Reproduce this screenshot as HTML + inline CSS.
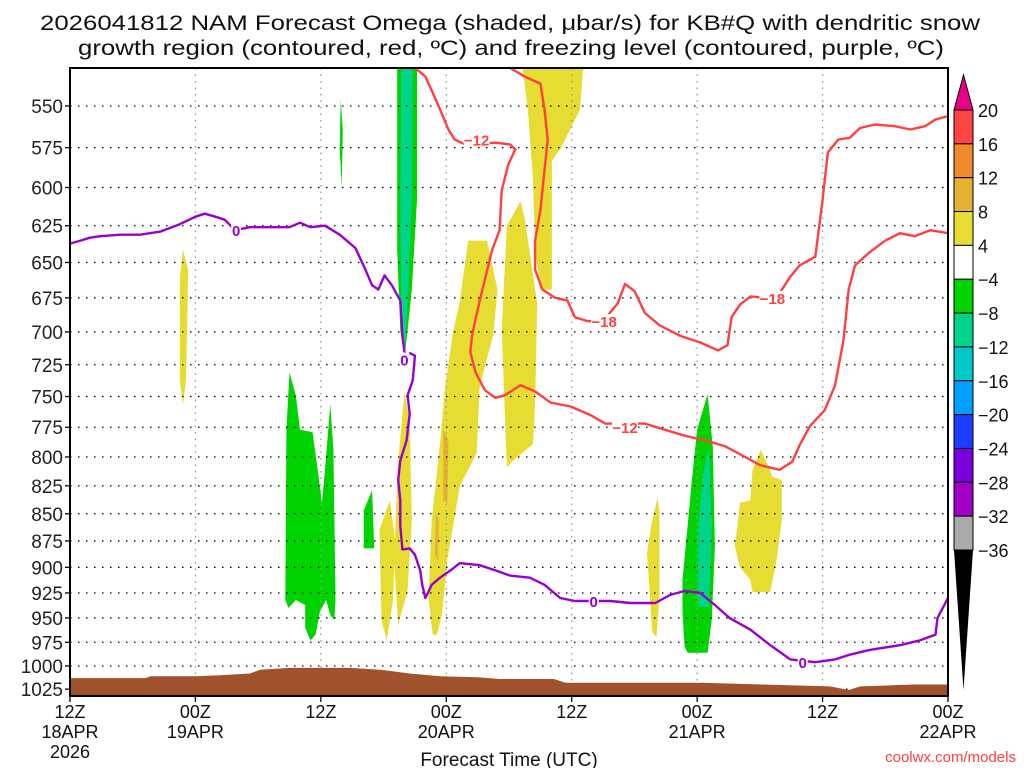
<!DOCTYPE html>
<html><head><meta charset="utf-8"><style>
html,body{margin:0;padding:0;background:#fff;}
svg{display:block;font-family:"Liberation Sans",sans-serif;}
</style></head><body>
<svg id="chart" width="1024" height="768" viewBox="0 0 1024 768" xmlns="http://www.w3.org/2000/svg">
<g id="title">
<text x="510" y="30" text-anchor="middle" font-size="21" textLength="940" lengthAdjust="spacingAndGlyphs" fill="#111">2026041812 NAM Forecast Omega (shaded, μbar/s) for KB#Q with dendritic snow</text>
<text x="511" y="55" text-anchor="middle" font-size="21" textLength="866" lengthAdjust="spacingAndGlyphs" fill="#111">growth region (contoured, red, ºC) and freezing level (contoured, purple, ºC)</text>
</g>
<g id="shading"></g>
<g id="grid"></g>
<g id="terrain"></g>
<g id="contours"></g>
<g id="axes"></g>
<g id="colorbar"></g>
<text x="509" y="766" text-anchor="middle" font-size="19" fill="#111">Forecast Time (UTC)</text>
<text x="1016" y="762" text-anchor="end" font-size="15" fill="#ff4040">coolwx.com/models</text>
</svg>
<script>
// ---- data ----
const pressureTicks = [550,575,600,625,650,675,700,725,750,775,800,825,850,875,900,925,950,975,1000,1025];
const timeTickHours = [0,12,24,36,48,60,72,84];
const timeTickLine1 = ["12Z","00Z","12Z","00Z","12Z","00Z","12Z","00Z"];
const timeTickLine2 = ["18APR","19APR","","20APR","","21APR","","22APR"];
const timeTickLine3 = ["2026","","","","","","",""];
const freezingLevel = [[0,637],[1,635],[1.9,633],[2.9,632],[4.8,631],[6.7,631],[8.6,629],[10.5,624],[12,619],[12.9,617],[13.9,619],[14.8,621],[15.8,628],[17.2,626],[19.1,626],[21,626],[22,623],[23,626],[24.4,625],[25.8,631],[27.3,640],[28.2,654],[28.9,666],[29.5,669],[30.1,659],[30.8,666],[31.6,677],[31.8,703],[32.1,721],[32.5,716],[33,718],[32.8,737],[32.3,749],[32.5,764],[32.2,786],[31.6,803],[31.4,820],[31.6,838],[31.6,861],[31.8,883],[32.5,882],[33,888],[33.5,903],[33.7,917],[34,930],[34.6,917],[35.4,910],[36.4,903],[37.3,896],[39.2,898],[40.7,903],[42.1,908],[44,910],[45.4,917],[46.9,930],[48.3,933],[51.7,933],[53.6,935],[56,935],[57.4,927],[58.8,923],[60.3,925],[61.7,937],[63.1,950],[65.1,962],[67,978],[68.9,993],[71.3,996],[73.2,993],[74.6,988],[76.5,983],[79.4,978],[81.3,973],[82.8,967],[83,950],[84,930]];
const dgzMinus12 = [[33,528],[34,533],[34.6,541],[35.4,552],[36.2,564],[36.8,570],[37.8,573],[40.7,572],[42.1,573],[42.6,576],[41.9,586],[41.3,602],[41.1,628],[40.4,641],[39.2,677],[38.5,701],[38.3,715],[38.8,731],[39.7,745],[40.7,751],[41.6,749],[43.1,741],[44.5,746],[46,755],[47.9,758],[49.8,765],[51.2,772],[53.5,772],[55,772],[56.9,777],[58.8,782],[60.8,786],[62.7,791],[64.6,800],[66,807],[67.9,811],[69.1,804],[69.8,790],[70.8,774],[72.2,761],[73.2,741],[74,706],[74.5,669],[75.1,652],[76.5,643],[78,635],[79.4,630],[80.8,632],[82.3,628],[84,630]];
const dgzMinus18 = [[42.1,528],[43.5,533],[45,537],[45.4,552],[45.7,570],[45.4,589],[45,615],[44.5,635],[44.5,655],[45.2,669],[46.4,675],[47.6,677],[48.3,689],[49.5,692],[51,692],[52.4,679],[53.1,665],[54,670],[55,686],[56.4,695],[58.4,703],[60.3,708],[62,714],[62.9,710],[63.3,689],[64.1,680],[65.1,674],[66.5,675],[67.6,675],[68.9,660],[69.8,652],[71.3,646],[72,608],[72.5,578],[73.5,570],[74.6,569],[75.6,563],[77,561],[78.9,562],[80.4,564],[81.8,562],[82.8,558],[84,556]];
const contourLabels = [["-12",38.9,570,"#ff4040"],["-18",51.1,692,"#ff4040"],["-12",53.1,775,"#ff4040"],["-18",67.2,675,"#ff4040"],["0",15.9,628,"#9900cc"],["0",32.0,721,"#9900cc"],["0",50.1,933,"#9900cc"],["0",70.1,996,"#9900cc"]];
const surfaceHours = [0,7.2,7.7,12,14.4,17.2,18.2,21,26.8,29.7,32.5,35.4,39,41.1,46.3,47.4,60.4,66.2,72.7,74.5,75.6,80.7,84];
const surfacePressure = [1013,1013,1011,1011,1010,1008,1004,1002,1002,1004,1008,1011,1012,1014,1014,1018,1018,1020,1022,1026,1022,1020,1020];
const omegaAreas = [
 ["green",[[31.3,528],[33.2,528],[33.2,608],[32.7,669],[32.3,699],[32,719],[31.6,699],[31.3,641]]],
 ["teal",[[31.7,528],[32.8,528],[32.7,608],[32.3,677],[32,716],[31.7,677],[31.6,608]]],
 ["green",[[25.9,546],[26.1,564],[26,600],[25.8,576]]],
 ["green",[[21,731],[21.6,749],[22,777],[23.2,779],[23.7,811],[24.1,840],[24.4,811],[24.9,756],[25.2,794],[25.4,932],[25.3,952],[24.9,947],[24.5,932],[23.9,944],[23.5,967],[23,973],[22.5,960],[22.5,937],[21.6,932],[20.9,940],[20.6,932],[20.7,777]]],
 ["green",[[28.9,829],[29.1,882],[28.1,882],[28.1,847]]],
 ["green",[[61,748],[60,777],[59.5,820],[58.6,912],[58.6,945],[58.8,980],[59.1,986],[61,986],[61.4,952],[61.7,880],[61.5,791]]],
 ["teal",[[61,794],[60.5,820],[60.1,865],[60.1,939],[61.1,939],[61.4,865],[61.2,805]]],
 ["yellow",[[10.8,641],[11.3,655],[11.2,699],[11.1,737],[10.8,757],[10.5,737],[10.5,662]]],
 ["yellow",[[32,747],[32.5,769],[32.7,856],[32.3,922],[31.4,957],[31,893],[31.4,803]]],
 ["yellow",[[30.6,838],[31.1,874],[30.9,932],[30.3,973],[29.8,952],[29.6,865]]],
 ["yellow",[[38.1,635],[37.3,677],[36.6,702],[35.9,742],[35.4,789],[34.6,856],[34.3,930],[34.7,967],[35.1,967],[35.6,946],[36.1,893],[37.3,825],[38.9,797],[39.2,742],[40.5,702],[40.9,669],[39.9,635]]],
 ["yellow",[[43.1,609],[41.8,625],[41.3,698],[41.8,809],[42.4,803],[44.3,789],[44.5,756],[44.7,679],[43.5,620]]],
 ["yellow",[[43.3,528],[49.1,528],[48.8,552],[46.9,576],[46.1,583],[46.1,669],[45,669],[44.5,641],[44.3,595],[43.8,552]]],
 ["yellow",[[56.2,836],[55.7,856],[55.2,886],[55.7,964],[56.1,970],[56.4,929],[56.4,849]]],
 ["yellow",[[66.1,794],[65.3,811],[65.1,838],[64.1,840],[63.8,865],[63.6,880],[64.1,900],[65.1,912],[65.3,924],[67,924],[67.6,893],[68.1,856],[68.1,820],[67.2,817],[66.7,806]]],
 ["orange",[[35.7,777],[36.2,786],[36.1,840],[35.7,838]]],
 ["orange",[[35,849],[35.3,856],[35.2,893],[34.9,888]]]
];
const cbLevels = ["20","16","12","8","4","-4","-8","-12","-16","-20","-24","-28","-32","-36"];
const cbColors = ["#ff4444","#f08a2c","#e6b030","#e6dc32","#ffffff","#00d400","#00d48c","#00c8c8","#00a0ff","#1e3cff","#7a00dc","#a000c4","#aaaaaa"];
// ---- axes ----
const X0=70,X1=948,Y0=68,Y1=696,HMAX=84;
const xS=h=>X0+h*(X1-X0)/HMAX;
const yS=p=>106+936.7*Math.log(p/550);
const PTOP=550*Math.exp((Y0-106)/936.7), PBOT=550*Math.exp((Y1-106)/936.7);
const NS="http://www.w3.org/2000/svg";
function mk(tag,attrs,parent){const e=document.createElementNS(NS,tag);for(const k in attrs)e.setAttribute(k,attrs[k]);parent.appendChild(e);return e;}
const fills={green:"#00d400",teal:"#00d48c",yellow:"#e6dc32",orange:"#e6b030"};
const gShade=document.getElementById('shading');
omegaAreas.forEach((a,i)=>{
 const pts=a[1].map(d=>xS(d[0]).toFixed(1)+","+yS(Math.max(PTOP,d[1])).toFixed(1)).join(" ");
 const el=mk('polygon',{points:pts,fill:fills[a[0]]},gShade);
 
 
});
const gGrid=document.getElementById('grid');
pressureTicks.forEach(p=>{
 const el=mk('line',{x1:X0,x2:X1,y1:yS(p),y2:yS(p),stroke:"#000","stroke-width":1.3,"stroke-dasharray":"1.5 6.5"},gGrid);
 
 
});
timeTickHours.forEach(h=>{
 if(h===0||h===84)return;
 const el=mk('line',{x1:xS(h),x2:xS(h),y1:Y0,y2:Y1,stroke:"#999","stroke-width":1.3,"stroke-dasharray":"1.5 5"},gGrid);
 
 
});
// terrain
const gT=document.getElementById('terrain');
let tp=surfaceHours.map((h,i)=>xS(h).toFixed(1)+","+yS(surfacePressure[i]).toFixed(1));
tp.push(xS(84)+","+yS(PBOT),xS(0)+","+yS(PBOT));
const terr=mk('polygon',{points:tp.join(" "),fill:"#a0522d"},gT);


// contours
const gC=document.getElementById('contours');
function line(data,color,name){
 const d=data.map((q,i)=>(i?"L":"M")+xS(q[0]).toFixed(1)+" "+yS(q[1]).toFixed(1)).join(" ");
 const el=mk('path',{d:d,fill:"none",stroke:color,"stroke-width":2.4,"stroke-linejoin":"round"},gC);
 
 
}
line(dgzMinus12,"#ff4040","dgz-minus12-contour");
line(dgzMinus18,"#ff4040","dgz-minus18-contour");
line(freezingLevel,"#9900cc","freezing-level-contour");
contourLabels.forEach(l=>{
 const x=xS(l[1]),y=yS(l[2]);
 const w=l[0].length*8+2;
 const r=mk('rect',{x:x-w/2,y:y-7,width:w,height:14,fill:"#fff"},gC);
 
 
 const t=mk('text',{x:x,y:y+6,"text-anchor":"middle","font-size":15,"font-weight":"bold",fill:l[3]},gC);
 t.textContent=l[0].replace("-","−");
 
 
});
// axes
const gA=document.getElementById('axes');
mk('rect',{x:X0,y:Y0,width:X1-X0,height:Y1-Y0,fill:"none",stroke:"#000","stroke-width":2},gA);
pressureTicks.forEach(p=>{
 mk('line',{x1:X0-5,x2:X0,y1:yS(p),y2:yS(p),stroke:"#000","stroke-width":1.3},gA);
 const t=mk('text',{x:63,y:yS(p)+7,"text-anchor":"end","font-size":19,fill:"#222"},gA);
 t.textContent=p;
 
 
});
timeTickHours.forEach((h,i)=>{
 const x=xS(h);
 mk('line',{x1:x,x2:x,y1:Y1,y2:Y1+6,stroke:"#000","stroke-width":1.3},gA);
 [timeTickLine1[i],timeTickLine2[i],timeTickLine3[i]].forEach((s,j)=>{
  if(!s)return;
  const t=mk('text',{x:x,y:718+j*20,"text-anchor":"middle","font-size":18,fill:"#111"},gA);
  t.textContent=s;
  
  
 });
});
// colorbar
const gB=document.getElementById('colorbar');
const cbX=954,cbW=19,cbTop=110,cbStep=(550-110)/13;
mk('polygon',{points:`${cbX},${cbTop} ${cbX+cbW},${cbTop} ${cbX+cbW/2},75`,fill:"#e8008a",stroke:"#000","stroke-width":1},gB);
cbColors.forEach((c,i)=>{
 const r=mk('rect',{x:cbX,y:cbTop+i*cbStep,width:cbW,height:cbStep,fill:c,stroke:"#000","stroke-width":1},gB);
 
 
});
mk('polygon',{points:`${cbX},550 ${cbX+cbW},550 ${cbX+cbW/2},690`,fill:"#000"},gB);
cbLevels.forEach((s,i)=>{
 const t=mk('text',{x:978,y:cbTop+i*cbStep+7,"font-size":18,fill:"#111"},gB);
 t.textContent=s.replace("-","−");
 
 
});
</script>
</body></html>
